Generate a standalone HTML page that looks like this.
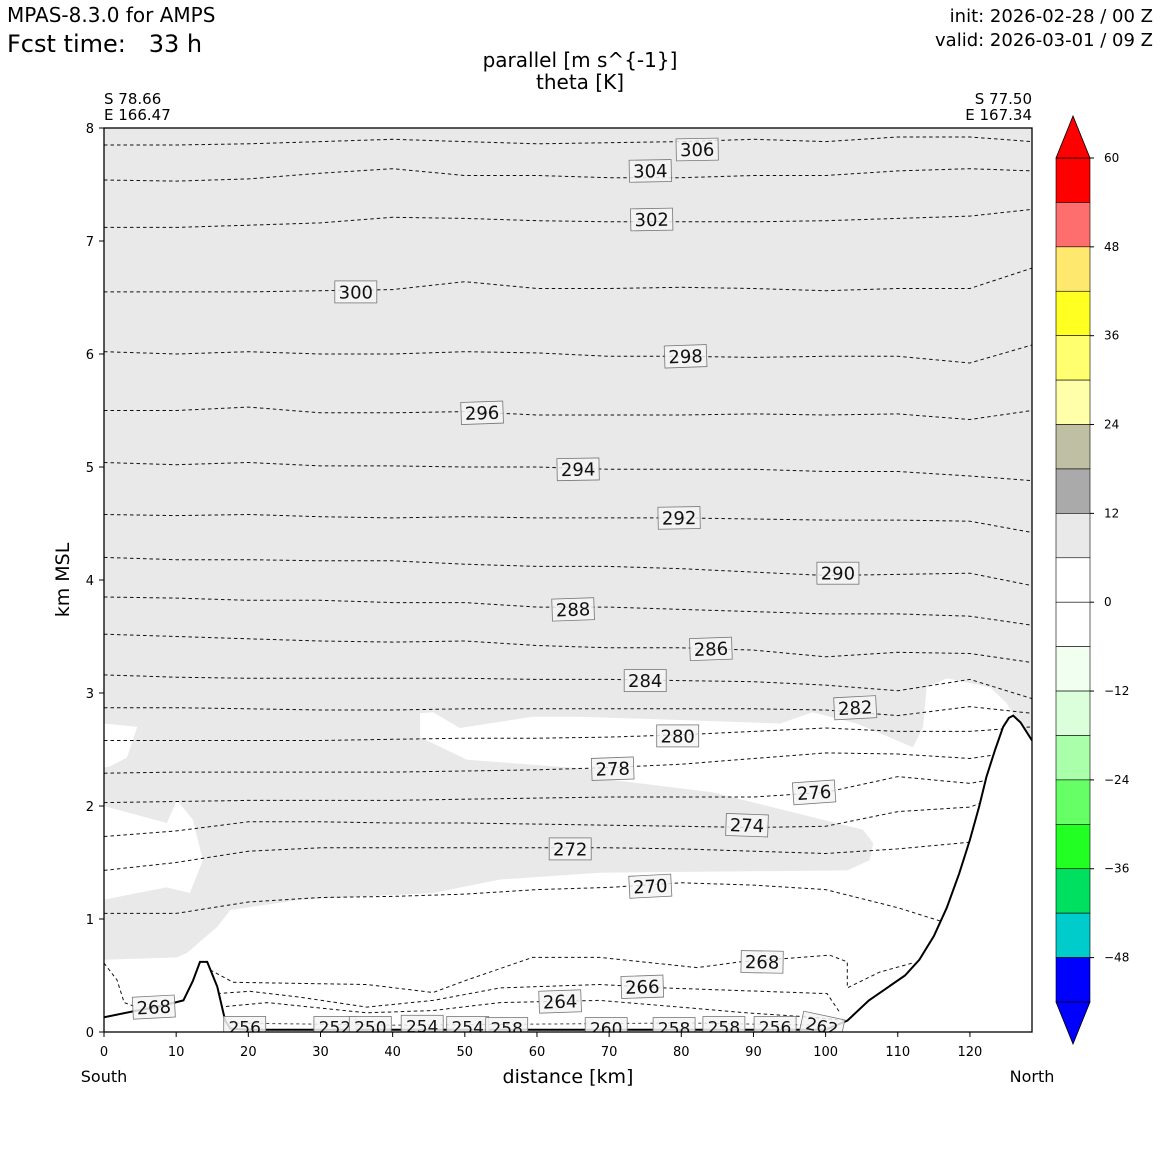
<!DOCTYPE html>
<html><head><meta charset="utf-8">
<style>
html,body{margin:0;padding:0;background:#fff;}
svg{display:block;font-family:"DejaVu Sans","Liberation Sans",sans-serif;}
</style></head>
<body>
<svg id="chart" width="1160" height="1160" viewBox="0 0 1160 1160">
  <text x="7" y="22" font-size="20">MPAS-8.3.0 for AMPS</text>
  <text x="7" y="52" font-size="24" xml:space="preserve">Fcst time:   33 h</text>
  <text x="1153" y="22" font-size="18" text-anchor="end">init: 2026-02-28 / 00 Z</text>
  <text x="1153" y="46" font-size="18" text-anchor="end">valid: 2026-03-01 / 09 Z</text>
  <text x="580" y="67" font-size="20" text-anchor="middle">parallel [m s^{-1}]</text>
  <text x="580" y="89" font-size="20" text-anchor="middle">theta [K]</text>
  <text x="104" y="104" font-size="15">S 78.66</text>
  <text x="104" y="120" font-size="15">E 166.47</text>
  <text x="1032" y="104" font-size="15" text-anchor="end">S 77.50</text>
  <text x="1032" y="120" font-size="15" text-anchor="end">E 167.34</text>
  <text x="0" y="0" font-size="19" text-anchor="middle" transform="translate(69,580) rotate(-90)">km MSL</text>
  <text x="568" y="1083" font-size="19" text-anchor="middle">distance [km]</text>
  <text x="104" y="1082" font-size="16" text-anchor="middle">South</text>
  <text x="1032" y="1082" font-size="16" text-anchor="middle">North</text>
  <defs><clipPath id="plotclip"><rect x="104" y="128" width="928" height="904"/></clipPath></defs>
  <g id="plot" clip-path="url(#plotclip)"></g>
  <g id="overlay"></g>
  <g id="cbar"></g>
</svg>
<script>
// ---- data ----
const xGrid = [0,10,20,30,40,50,60,70,80,90,100,110,120,128.6];
const levels = [306,304,302,300,298,296,294,292,290,288,286,284,282,280,278,276,274,272,270];
const th306=[7.85,7.85,7.86,7.88,7.90,7.88,7.86,7.87,7.88,7.90,7.88,7.92,7.92,7.88];
const th304=[7.54,7.53,7.55,7.60,7.64,7.58,7.58,7.56,7.56,7.58,7.58,7.62,7.64,7.62];
const th302=[7.12,7.12,7.14,7.16,7.21,7.20,7.18,7.17,7.17,7.17,7.18,7.20,7.22,7.28];
const th300=[6.55,6.55,6.55,6.56,6.57,6.64,6.58,6.58,6.59,6.58,6.56,6.58,6.58,6.76];
const th298=[6.02,6.00,6.02,6.00,6.00,6.02,6.01,5.98,5.98,5.97,5.98,5.98,5.92,6.08];
const th296=[5.50,5.50,5.53,5.48,5.48,5.49,5.46,5.46,5.46,5.47,5.46,5.47,5.42,5.50];
const th294=[5.04,5.02,5.04,5.01,5.01,5.00,5.00,4.98,4.98,4.98,4.96,4.96,4.92,4.88];
const th292=[4.58,4.57,4.58,4.56,4.55,4.56,4.55,4.55,4.55,4.54,4.53,4.53,4.52,4.42];
const th290=[4.20,4.18,4.18,4.17,4.17,4.14,4.12,4.12,4.10,4.07,4.04,4.05,4.06,3.95];
const th288=[3.85,3.84,3.82,3.82,3.80,3.80,3.76,3.76,3.74,3.72,3.70,3.70,3.68,3.60];
const th286=[3.52,3.50,3.48,3.46,3.45,3.46,3.42,3.40,3.40,3.38,3.32,3.36,3.35,3.27];
const th284=[3.16,3.14,3.13,3.13,3.13,3.13,3.12,3.12,3.11,3.10,3.07,3.02,3.12,2.95];
const th282=[2.87,2.87,2.86,2.85,2.85,2.86,2.86,2.86,2.86,2.86,2.85,2.80,2.88,2.82];
const th280=[2.58,2.58,2.58,2.58,2.59,2.60,2.60,2.61,2.63,2.66,2.69,2.66,2.66,2.70];
const th278=[2.29,2.30,2.30,2.30,2.30,2.31,2.32,2.34,2.37,2.42,2.47,2.46,2.42,2.50];
const th276=[2.03,2.04,2.05,2.05,2.05,2.06,2.07,2.08,2.08,2.08,2.12,2.26,2.20,2.30];
const th274=[1.73,1.78,1.86,1.86,1.85,1.85,1.84,1.83,1.82,1.81,1.82,1.95,1.99,2.20];
const th272=[1.43,1.50,1.60,1.63,1.63,1.63,1.63,1.63,1.62,1.60,1.58,1.62,1.68,1.70];
const th270=[1.05,1.05,1.15,1.19,1.20,1.22,1.26,1.28,1.32,1.30,1.26,1.10,0.90,0.90];
const thetaRows=[th306,th304,th302,th300,th298,th296,th294,th292,th290,th288,th286,th284,th282,th280,th278,th276,th274,th272,th270];
const th268a=[[0,0.61],[1.8,0.46],[2.8,0.26],[4.5,0.22]];
const th268b=[[14.7,0.55],[17.9,0.44],[27,0.43],[36.4,0.42],[45.6,0.35],[50.3,0.46],[59.4,0.66],[68.7,0.66],[82.2,0.57],[88.1,0.62],[100.6,0.68],[103,0.62],[103,0.39],[107.5,0.53],[112,0.61]];
const th266=[[15.7,0.34],[20.2,0.36],[27,0.31],[36.4,0.22],[45.6,0.28],[54.9,0.39],[68.7,0.42],[77.5,0.39],[86.7,0.37],[100.2,0.34],[102,0.17]];
const th264=[[16,0.22],[22.6,0.26],[36.4,0.17],[45.6,0.19],[54.9,0.26],[68.7,0.28],[79.8,0.22],[89,0.17],[98.2,0.13],[103,0.10]];
const terrainX=[0,4.6,8,11,12.3,13.3,14.3,15.7,16.8,17.5,20,40,60,80,100,103,106,108.5,111,113,115,116.8,118.5,120,121.3,122.3,123.5,124.6,125.4,126,127,128.6];
const terrainH=[0.13,0.19,0.23,0.28,0.45,0.62,0.62,0.40,0.10,0.03,0.02,0.02,0.02,0.02,0.02,0.10,0.28,0.39,0.50,0.64,0.85,1.10,1.40,1.70,2.00,2.26,2.50,2.70,2.78,2.80,2.74,2.58];
const whiteMain=[[0,0.64],[10.1,0.66],[11.5,0.70],[15.7,0.93],[17.5,1.08],[27.2,1.17],[45.6,1.23],[54.9,1.35],[68.7,1.41],[103,1.43],[106.1,1.52],[106.6,1.67],[105.2,1.79],[98.2,1.90],[84.4,2.12],[70.5,2.23],[68.7,2.32],[50.3,2.41],[43.8,2.61],[43.8,2.82],[45.6,2.83],[49.3,2.69],[59.4,2.79],[66,2.79],[93.7,2.73],[98.2,2.83],[104.3,2.73],[112.1,2.52],[113.5,2.70],[114,3.05],[116.8,3.13],[122.8,3.05],[125.1,2.91],[126.2,2.79],[126.2,-0.2],[0,-0.2]];
const whiteNotch=[[0,2.73],[4.6,2.70],[3.2,2.43],[0.8,2.35],[0,2.34]];
const whiteBlob=[[0,2.0],[8.7,1.85],[10.1,2.05],[12.3,1.88],[13.7,1.52],[11.9,1.23],[8.7,1.28],[4.6,1.23],[0,1.17]];
const labelText=["306","304","302","300","298","296","294","292","290","288","286","284","282","280","278","276","274","272","270","268","268","266","264","256","252","250","254","254","258","260","258","258","256","262"];
const labelX=[82.2,75.7,75.9,34.9,80.6,52.4,65.7,79.7,101.7,65.0,84.1,75.0,104.1,79.5,70.5,98.4,89.1,64.6,75.7,91.2,6.9,74.6,63.2,19.5,32.0,36.9,44.1,50.4,55.8,69.6,79.0,85.9,93.0,99.5];
const labelH=[7.81,7.62,7.19,6.55,5.98,5.48,4.98,4.55,4.06,3.74,3.39,3.11,2.87,2.62,2.33,2.12,1.83,1.62,1.29,0.62,0.22,0.40,0.27,0.04,0.04,0.04,0.05,0.04,0.03,0.03,0.03,0.04,0.04,0.05];
const labelRot=[-1,-1,-1,0,-2,-2,-1,-1,0,-2,-2,0,-3,0,-2,-4,2,0,-3,1,-3,-2,-2,0,0,0,0,0,0,0,0,0,0,12];
const cbLevels=[60,54,48,42,36,30,24,18,12,6,0,-6,-12,-18,-24,-30,-36,-42,-48,-54];
const cbColors=["#ff0000","#ff6e6e","#ffe86e","#ffff22","#ffff70","#ffffaa","#bfbfa3","#aaaaaa","#e9e9e9","#ffffff","#ffffff","#f0fff0","#daffda","#aaffaa","#66ff66","#22ff22","#00e060","#00cccc","#0000ff"];
const cbTicks=[60,48,36,24,12,0,-12,-24,-36,-48];
const xTicks=[0,10,20,30,40,50,60,70,80,90,100,110,120];
const yTicks=[0,1,2,3,4,5,6,7,8];

const NS="http://www.w3.org/2000/svg";
const X0=104,X1=1032,Y0=1032,Y1=128, XMAX=128.6, HMAX=8;
const X=k=>X0+k*(X1-X0)/XMAX;
const Y=h=>Y0-h*(Y0-Y1)/HMAX;
function mk(tag,attrs,parent){const e=document.createElementNS(NS,tag);for(const k in attrs)e.setAttribute(k,attrs[k]);parent.appendChild(e);return e;}
const plot=document.getElementById('plot');
const over=document.getElementById('overlay');
const ptsStr=arr=>arr.map(p=>X(p[0]).toFixed(1)+','+Y(p[1]).toFixed(1)).join(' ');

let bg=mk('rect',{x:X0,y:Y1,width:X1-X0,height:Y0-Y1,fill:'#e9e9e9'},plot);


[[whiteMain,'low-wind-region'],[whiteNotch,'low-wind-notch'],[whiteBlob,'low-wind-blob']].forEach(([poly,name])=>{
  const p=mk('polygon',{points:ptsStr(poly),fill:'#ffffff'},plot);
  
  
});
thetaRows.forEach((row,i)=>{
  const pl=mk('polyline',{points:ptsStr(row.map((h,j)=>[xGrid[j],h])),fill:'none',stroke:'#111','stroke-width':1,'stroke-dasharray':'3.5,3'},plot);
  
  
});
[[th268a,'268-left'],[th268b,'268'],[th266,'266'],[th264,'264']].forEach(([arr,n])=>{
  const pl=mk('polyline',{points:ptsStr(arr),fill:'none',stroke:'#111','stroke-width':1,'stroke-dasharray':'3.5,3'},plot);
  
  
});
const lowLine=mk('polyline',{points:ptsStr([[17.5,0.08],[40,0.06],[60,0.07],[80,0.08],[100,0.06]]),fill:'none',stroke:'#444','stroke-width':1,'stroke-dasharray':'3,3'},plot);


const tpts=terrainX.map((x,i)=>[x,terrainH[i]]);
const tfill=mk('polygon',{points:ptsStr([[0,-0.3]].concat(tpts,[[128.6,-0.3]])),fill:'#ffffff'},plot);


const tline=mk('polyline',{points:ptsStr(tpts),fill:'none',stroke:'#000','stroke-width':2},plot);


labelText.forEach((t,i)=>{
  const cx=X(labelX[i]), cy=Y(labelH[i]);
  const fs = labelH[i]<0.1 ? 17 : 18;
  const w = 42, hgt = 22;
  const g=mk('g',{transform:`translate(${cx.toFixed(1)},${cy.toFixed(1)}) rotate(${labelRot[i]})`},plot);
  
  
  mk('rect',{x:-w/2,y:-hgt/2,width:w,height:hgt,fill:'rgba(245,245,245,0.85)',stroke:'#777','stroke-width':0.8},g);
  const tx=mk('text',{x:0,y:fs*0.36,'font-size':fs,'text-anchor':'middle',fill:'#111'},g);
  tx.textContent=t;
});
const frame=mk('rect',{x:X0,y:Y1,width:X1-X0,height:Y0-Y1,fill:'none',stroke:'#000','stroke-width':1.3},over);


xTicks.forEach(v=>{
  mk('line',{x1:X(v),x2:X(v),y1:Y0,y2:Y0+5,stroke:'#000'},over);
  const t=mk('text',{x:X(v),y:Y0+24,'font-size':13,'text-anchor':'middle'},over);
  
  
  t.textContent=v;
});
yTicks.forEach(v=>{
  mk('line',{x1:X0-5,x2:X0,y1:Y(v),y2:Y(v),stroke:'#000'},over);
  const t=mk('text',{x:X0-10,y:Y(v)+5,'font-size':13,'text-anchor':'end'},over);
  
  
  t.textContent=v;
});
const cb=document.getElementById('cbar');
const CX=1056,CW=34,CT=158,CB=1002;
const CY=v=>CT+(60-v)*(CB-CT)/114;
cbColors.forEach((c,i)=>{
  const r=mk('rect',{x:CX,y:CY(cbLevels[i]),width:CW,height:CY(cbLevels[i+1])-CY(cbLevels[i]),fill:c,stroke:'#000','stroke-width':0.6},cb);
  
  
});
const up=mk('polygon',{points:`${CX},${CT} ${CX+CW},${CT} ${CX+CW/2},${CT-42}`,fill:'#ff0000',stroke:'#000','stroke-width':0.8},cb);


const dn=mk('polygon',{points:`${CX},${CB} ${CX+CW},${CB} ${CX+CW/2},${CB+42}`,fill:'#0000ff',stroke:'#000','stroke-width':0.8},cb);


cbTicks.forEach(v=>{
  mk('line',{x1:CX+CW,x2:CX+CW+4,y1:CY(v),y2:CY(v),stroke:'#000'},cb);
  const t=mk('text',{x:CX+CW+14,y:CY(v)+4,'font-size':12},cb);
  
  
  t.textContent=v<0?'\u2212'+Math.abs(v):String(v);
});
</script>
</body></html>
